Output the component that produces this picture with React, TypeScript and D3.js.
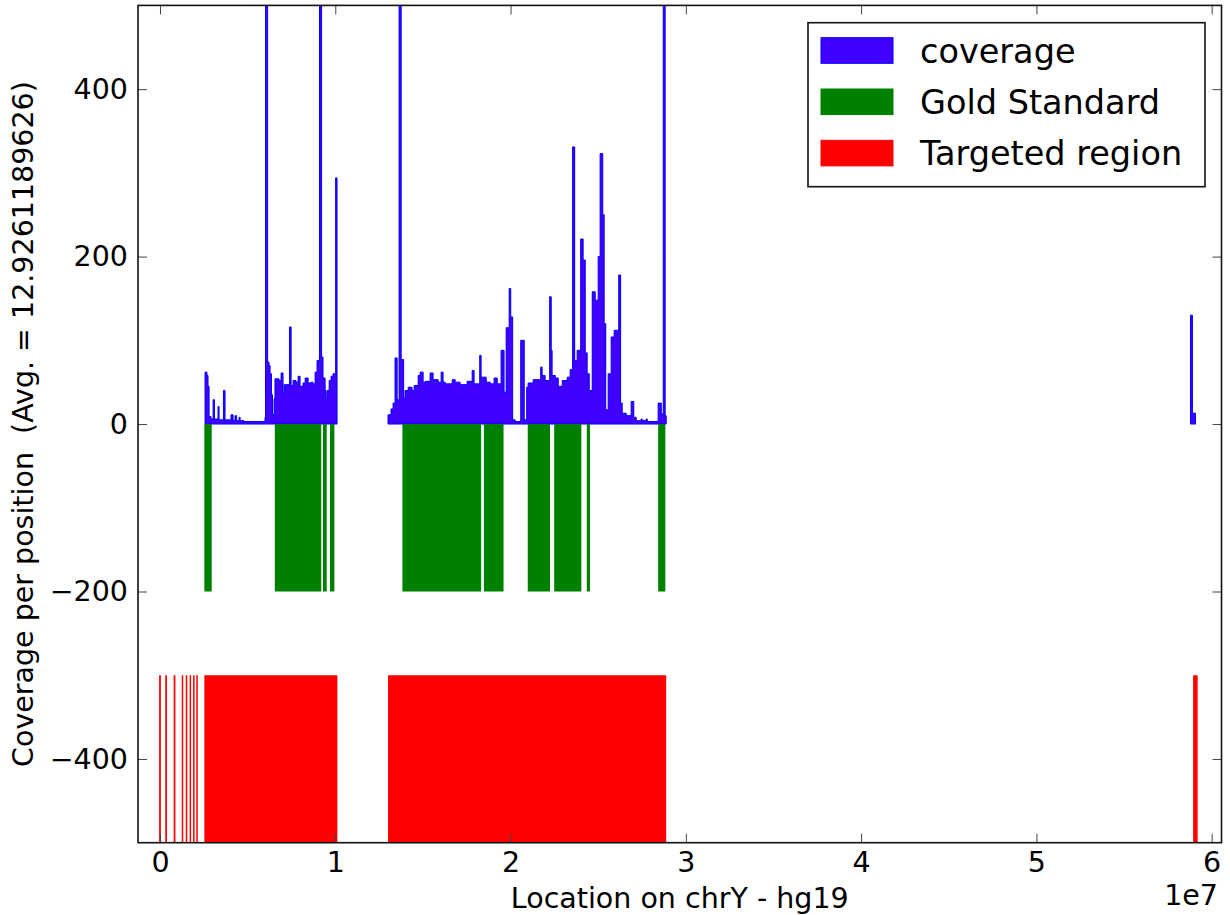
import React, { useEffect, useRef } from 'react';
import * as d3 from 'd3';

const width = 1230;
const height = 915;
const plot = { left: 138, right: 1221.5, top: 5.4, bottom: 842.7 };
const font = 'DejaVu Sans, sans-serif';

// coverage profile, [position in Mb, coverage] (step after, last point closes the run)
const coverageRun1: [number, number][] = [
  [2.57, 62], [2.68, 58], [2.74, 45], [2.8, 9], [2.91, 6], [3.03, 29], [3.11, 6],
  [3.31, 21], [3.37, 5], [3.62, 40], [3.71, 5], [4.0, 4], [4.05, 11], [4.17, 4],
  [4.28, 10], [4.37, 4], [4.51, 8], [4.57, 4], [4.79, 3], [5.99, 8], [6.02, 900],
  [6.14, 74], [6.22, 70], [6.28, 60], [6.36, 35], [6.42, 11], [6.51, 30], [6.56, 54],
  [6.79, 52], [6.91, 61], [7.02, 37], [7.08, 47], [7.39, 116], [7.48, 46],
  [7.59, 52], [7.76, 50], [7.88, 57], [7.99, 45], [8.16, 49], [8.28, 55], [8.45, 49],
  [8.62, 50], [8.73, 48], [8.85, 62], [8.96, 76], [9.1, 900], [9.22, 80], [9.3, 55],
  [9.42, 40], [9.47, 31], [9.53, 40], [9.65, 52], [9.76, 57], [9.87, 60], [10.02, 294],
  [10.1, 0],
];
const coverageRun2: [number, number][] = [
  [13.01, 11], [13.18, 18], [13.3, 25], [13.41, 79], [13.53, 29], [13.64, 900],
  [13.76, 77], [13.9, 31], [13.98, 40], [14.16, 44], [14.38, 40], [14.5, 46],
  [14.73, 58], [14.84, 62], [15.01, 50], [15.13, 51], [15.41, 61], [15.58, 53],
  [15.87, 50], [16.04, 62], [16.15, 50], [16.27, 48], [16.67, 53], [16.84, 50],
  [17.12, 47], [17.52, 51], [17.81, 64], [17.92, 48], [18.24, 82], [18.32, 56],
  [18.61, 50], [18.84, 48], [19.06, 55], [19.24, 48], [19.46, 88],
  [19.63, 38], [19.75, 115], [19.92, 162], [20.01, 128], [20.12, 5], [20.26, 3],
  [20.58, 100], [20.78, 5], [20.92, 44], [21.0, 49], [21.29, 53], [21.72, 68],
  [21.8, 58], [21.97, 52], [22.23, 152], [22.32, 88], [22.37, 58], [22.55, 55],
  [22.72, 45], [22.95, 52], [23.23, 56], [23.4, 65], [23.54, 331], [23.66, 76],
  [23.8, 88], [24.0, 221], [24.14, 196], [24.26, 85], [24.37, 60], [24.49, 40],
  [24.66, 158], [24.83, 148], [25.0, 200], [25.11, 323], [25.26, 250], [25.34, 120],
  [25.43, 17], [25.57, 60], [25.74, 104], [25.91, 112], [26.17, 178], [26.28, 25],
  [26.37, 13], [26.6, 10], [26.88, 27], [27.03, 8], [27.17, 4], [27.45, 6], [27.51, 4],
  [27.74, 6], [27.8, 3], [28.42, 25], [28.6, 12], [28.71, 900], [28.82, 10], [28.88, 0],
];
const coverageRun3: [number, number][] = [
  [58.79, 130], [58.9, 13], [59.08, 0],
];

// Gold Standard intervals [start Mb, end Mb]
const goldStandard: [number, number][] = [
  [2.53, 2.95], [6.55, 9.2], [9.3, 9.51], [9.7, 9.95], [13.83, 18.32],
  [18.48, 19.6], [20.98, 22.25], [22.49, 24.04], [24.35, 24.53], [28.42, 28.83],
];
// Targeted region intervals [start Mb, end Mb]
const targeted: [number, number][] = [
  [-0.05, 0.05], [0.3, 0.4], [0.78, 0.88], [1.24, 1.32], [1.47, 1.55], [1.69, 1.77],
  [1.89, 1.97], [2.07, 2.15], [2.53, 10.12], [13.01, 28.88], [58.94, 59.2],
];

const goldLevel = [0, -200];
const targetLevel = [-300, -500];
const xTicks = [0, 1, 2, 3, 4, 5, 6];
const yTicks = [-400, -200, 0, 200, 400];

const legendItems = [
  { label: 'coverage', fill: '#4000ff', stroke: '#0000ff' },
  { label: 'Gold Standard', fill: '#008000', stroke: '#008000' },
  { label: 'Targeted region', fill: '#ff0000', stroke: '#ff0000' },
];

const x = d3.scaleLinear().domain([-1.255e6, 6.056e7]).range([plot.left, plot.right]);
const y = d3.scaleLinear().domain([-500, 500]).range([plot.bottom, plot.top]);

const App = () => {
  const xAxisRef = useRef<SVGGElement>(null);
  const xTopRef = useRef<SVGGElement>(null);
  const yAxisRef = useRef<SVGGElement>(null);
  const yRightRef = useRef<SVGGElement>(null);

  useEffect(() => {
    const style = (g: d3.Selection<SVGGElement, unknown, null, undefined>) => {
      g.select('.domain').remove();
      g.selectAll('.tick line').attr('stroke', '#444').attr('stroke-width', 1);
      g.selectAll('.tick text').attr('fill', '#000').style('font-family', font).style('font-size', '28.5px');
    };
    const bottom = d3.axisBottom(x).tickValues(xTicks.map(d => d * 1e7))
      .tickFormat(d => String(+d / 1e7)).tickSizeInner(-9).tickSizeOuter(0).tickPadding(9);
    d3.select(xAxisRef.current!).call(bottom).call(style);
    const top = d3.axisTop(x).tickValues(xTicks.map(d => d * 1e7))
      .tickFormat(() => '').tickSizeInner(-9).tickSizeOuter(0);
    d3.select(xTopRef.current!).call(top).call(style);
    const left = d3.axisLeft(y).tickValues(yTicks).tickSizeInner(-9).tickSizeOuter(0).tickPadding(10);
    d3.select(yAxisRef.current!).call(left).call(style);
    const right = d3.axisRight(y).tickValues(yTicks).tickFormat(() => '').tickSizeInner(-9).tickSizeOuter(0);
    d3.select(yRightRef.current!).call(right).call(style);
  }, []);

  const area = d3.area<[number, number]>()
    .x(d => x(d[0] * 1e6))
    .y0(y(0))
    .y1(d => y(d[1]))
    .curve(d3.curveStepAfter);

  const bars = (list: [number, number][], level: number[], color: string) =>
    list.map((d, i) => (
      <rect key={color + i} x={x(d[0] * 1e6)} width={Math.max(x(d[1] * 1e6) - x(d[0] * 1e6), 1.5)}
        y={y(level[0])} height={y(level[1]) - y(level[0])} fill={color} />
    ));

  return (
    <svg width={width} height={height} style={{ position: 'absolute', left: 0, top: 0, background: '#fff' }}>
      <defs>
        <clipPath id="plotClip">
          <rect x={plot.left} y={plot.top} width={plot.right - plot.left} height={plot.bottom - plot.top} />
        </clipPath>
      </defs>
      <g clipPath="url(#plotClip)">
        {[coverageRun1, coverageRun2, coverageRun3].map((run, i) => (
          <path key={i} d={area(run)!} fill="#4000ff" stroke="#0000ff" strokeWidth={1} />
        ))}
        {bars(goldStandard, goldLevel, '#008000')}
        {bars(targeted, targetLevel, '#ff0000')}
      </g>
      <g ref={xAxisRef} transform={`translate(0, ${plot.bottom})`} />
      <g ref={xTopRef} transform={`translate(0, ${plot.top})`} />
      <g ref={yAxisRef} transform={`translate(${plot.left}, 0)`} />
      <g ref={yRightRef} transform={`translate(${plot.right}, 0)`} />
      <rect x={plot.left} y={plot.top} width={plot.right - plot.left} height={plot.bottom - plot.top}
        fill="none" stroke="#111" strokeWidth={1.6} />

      <text x={1218} y={905} textAnchor="end" fontFamily={font} fontSize={28.5}>1e7</text>
      <text x={(plot.left + plot.right) / 2} y={908} textAnchor="middle" fontFamily={font} fontSize={28.5}>
        Location on chrY - hg19
      </text>
      <text transform={`translate(33, ${(plot.top + plot.bottom) / 2}) rotate(-90)`} textAnchor="middle"
        fontFamily={font} fontSize={28.5} xmlSpace="preserve">
        {'Coverage per position  (Avg. = 12.9261189626)'}
      </text>

      <g>
        <rect x={808} y={22.7} width={397} height={164} fill="#fff" stroke="#111" strokeWidth={1.6} />
        {legendItems.map((d, i) => (
          <g key={d.label} transform={`translate(0, ${i * 51.3})`}>
            <rect x={821} y={37.7} width={72} height={25.6} fill={d.fill} stroke={d.stroke} strokeWidth={1} />
            <text x={920} y={62.5} fontFamily={font} fontSize={33.5}>{d.label}</text>
          </g>
        ))}
      </g>
    </svg>
  );
};

export default App;
